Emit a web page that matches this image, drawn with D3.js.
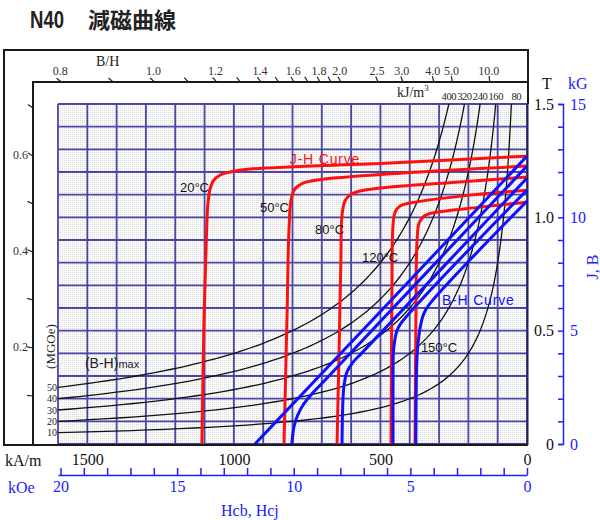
<!DOCTYPE html>
<html lang="ja">
<head>
<meta charset="UTF-8">
<script src="https://d3js.org/d3.v7.min.js"></script>
<style>
  body { margin: 0; background: #fff; }
  svg { display: block; }
  .serif { font-family: "Liberation Serif", "Times New Roman", serif; }
  .sans { font-family: "Liberation Sans", Arial, sans-serif; }
</style>
</head>
<body>
<svg id="chart" width="600" height="520"></svg>
<script>
// J-H curves: [H kA/m, J T]
const jh20 = [[0,1.270],[467,1.240],[945,1.213],[1013,1.200],[1047,1.187],[1071,1.160],[1082,1.120],[1089,1.054],[1095,0.856],[1102,0.547],[1109,0]];
const jh50 = [[0,1.226],[433,1.195],[716,1.165],[764,1.151],[792,1.125],[805,1.076],[812,0.944],[819,0.547],[829,0]];
const jh80 = [[0,1.178],[229,1.156],[502,1.129],[570,1.116],[604,1.098],[621,1.072],[631,1.010],[635,0.812],[641,0.415],[648,0]];
const jh120 = [[0,1.120],[194,1.098],[399,1.063],[433,1.050],[450,1.023],[457,0.966],[461,0.635],[464,0]];
const jh150 = [[0,1.067],[160,1.045],[324,1.019],[351,1.006],[368,0.975],[375,0.900],[379,0.547],[382,0]];

// B-H curves: [H kA/m, B T]
const bh20 = [[0,1.270],[491,0.597],[928,0]];
const bh50 = [[0,1.226],[600,0.404],[700,0.267],[740,0.212],[765,0.170],[783,0.125],[795,0.075],[800,0.030],[802,0]];
const bh80 = [[0,1.173],[563,0.402],[594,0.360],[614,0.318],[624,0.260],[628,0.194],[631,0]];
const bh120 = [[0,1.120],[433,0.527],[446,0.490],[452,0.450],[456,0.400],[457,0.300],[457,0]];
const bh150 = [[0,1.072],[335,0.613],[352,0.575],[362,0.530],[369,0.475],[374,0.410],[377,0.320],[379,0]];

const temps = ["20°C", "50°C", "80°C", "120°C", "150°C"];

// (B-H)max iso-energy guides
const energyKJ = [80, 160, 240, 320, 400];
const energyMGOe = [10, 20, 30, 40, 50];

// B/H (permeance) scale on the frame
const bhRatioTicks = [0.1,0.2,0.3,0.4,0.5,0.6,0.7,0.8,0.9,1.0,1.1,1.2,1.3,1.4,1.5,1.6,1.7,1.8,1.9,2.0,2.5,3.0,4.0,5.0,10.0];
const bhRatioLabels = [0.2,0.4,0.6,0.8,1.0,1.2,1.4,1.6,1.8,2.0,2.5,3.0,4.0,5.0,10.0];

// axis labels
const kAmLabels = [0, 500, 1000, 1500];
const kOeLabels = [0, 5, 10, 15, 20];
const teslaLabels = [0, 0.5, 1.0, 1.5];
const kGLabels = [0, 5, 10, 15];

const svg = d3.select("#chart");
const plot = { left: 58, right: 527, top: 104, bottom: 444 };
const frame = { outerLeft: 4, outerTop: 50, innerLeft: 33, innerTop: 82 };
const mu0 = 4 * Math.PI * 1e-4; // T per kA/m

const x = d3.scaleLinear().domain([0, 1600]).range([plot.right, plot.left]);
const y = d3.scaleLinear().domain([0, 1.5]).range([plot.bottom, plot.top]);
const xOe = d3.scaleLinear().domain([0, 1600 / 79.5775]).range([plot.right, plot.left]);
const yG = d3.scaleLinear().domain([0, 15]).range([plot.bottom, plot.top]);

// title
svg.append("text").attr("x", 30).attr("y", 28)
    .attr("font-family", "Liberation Sans, Arial, sans-serif").attr("font-weight", "bold")
    .attr("font-size", 23).attr("fill", "#222")
    .attr("textLength", 34).attr("lengthAdjust", "spacingAndGlyphs")
    .text("N40");
svg.append("text").attr("x", 88).attr("y", 28)
    .attr("font-family", "Noto Sans CJK JP, sans-serif").attr("font-weight", "bold")
    .attr("font-size", 22).attr("fill", "#222")
    .text("減磁曲線");

// background + grid
const defs = svg.append("defs");
const pat = defs.append("pattern").attr("id", "dots")
    .attr("width", 2).attr("height", 2).attr("patternUnits", "userSpaceOnUse");
pat.append("rect").attr("width", 2).attr("height", 2).attr("fill", "#fcfcfc");
pat.append("rect").attr("width", 1).attr("height", 1).attr("fill", "#dadada");

defs.append("clipPath").attr("id", "plotClip").append("rect")
    .attr("x", plot.left).attr("y", plot.top)
    .attr("width", plot.right - plot.left).attr("height", plot.bottom - plot.top);

svg.append("rect").attr("x", plot.left).attr("y", plot.top)
    .attr("width", plot.right - plot.left).attr("height", plot.bottom - plot.top)
    .attr("fill", "url(#dots)");

const grid = svg.append("g").attr("stroke", "#4848a4").attr("stroke-width", 1.8);
grid.selectAll(".gx").data(x.ticks(16)).enter().append("line")
    .attr("x1", d => x(d)).attr("x2", d => x(d))
    .attr("y1", plot.top).attr("y2", plot.bottom);
grid.selectAll(".gy").data(y.ticks(15)).enter().append("line")
    .attr("x1", plot.left).attr("x2", plot.right)
    .attr("y1", d => y(d)).attr("y2", d => y(d));

// frame
const fr = svg.append("g").attr("stroke", "#1a1a1a").attr("stroke-width", 2).attr("fill", "none");
fr.append("path").attr("d", `M${plot.right + 1},${plot.top} V${frame.outerTop} H${frame.outerLeft} V${plot.bottom + 1} H${plot.right + 1}`);
fr.append("path").attr("d", `M${plot.right + 1},${frame.innerTop} H${frame.innerLeft} V${plot.bottom + 1}`);
fr.append("line").attr("x1", plot.right + 0.5).attr("x2", plot.right + 0.5)
    .attr("y1", plot.top).attr("y2", plot.bottom + 1).attr("stroke", "#22225a");

// B/H ticks on frame
const ox = x(0), oy = y(0);
function framePoint(p) {
    const bTop = y.invert(frame.innerTop);
    let h = bTop / (p * mu0);
    if (x(h) >= frame.innerLeft) return { px: x(h), py: frame.innerTop, side: "top" };
    h = x.invert(frame.innerLeft);
    return { px: frame.innerLeft, py: y(p * mu0 * h), side: "left" };
}
const bhg = svg.append("g");
bhRatioTicks.forEach(p => {
    const fp = framePoint(p);
    const dx = fp.px - ox, dy = fp.py - oy, len = Math.hypot(dx, dy);
    bhg.append("line")
        .attr("x1", fp.px).attr("y1", fp.py)
        .attr("x2", fp.px + 6 * dx / len).attr("y2", fp.py + 6 * dy / len)
        .attr("stroke", "#222").attr("stroke-width", 1.2);
    if (bhRatioLabels.includes(p)) {
        const t = bhg.append("text").attr("class", "serif").attr("font-size", 12).attr("fill", "#333")
            .text(p.toFixed(1));
        if (fp.side === "top") t.attr("x", fp.px - 1).attr("y", 75).attr("text-anchor", "middle");
        else t.attr("x", 28).attr("y", fp.py + 3).attr("text-anchor", "end");
    }
});
svg.append("text").attr("class", "serif").attr("x", 96).attr("y", 66)
    .attr("font-size", 14).attr("fill", "#222").text("B/H");

// iso-energy guides (B·H = const)
const lineGen = d3.line().x(d => x(d[0])).y(d => y(d[1])).curve(d3.curveCatmullRom.alpha(0.5));
const guides = svg.append("g").attr("clip-path", "url(#plotClip)");
energyKJ.forEach(e => {
    const hMin = e / 1.55;
    const pts = d3.range(0, 81).map(i => {
        const h = hMin * Math.pow(1600 / hMin, i / 80);
        return [h, e / h];
    });
    guides.append("path").attr("d", d3.line().x(d => x(d[0])).y(d => y(d[1]))(pts))
        .attr("fill", "none").attr("stroke", "#111").attr("stroke-width", 1.3);
});
const elab = svg.append("g").attr("class", "serif").attr("fill", "#222");
energyKJ.forEach(e => {
    elab.append("text").attr("x", x(e / 1.5) + (e === 80 ? 5 : 0)).attr("y", 100)
        .attr("text-anchor", "middle").attr("font-size", 10.5).attr("letter-spacing", -0.4)
        .text(e);
});
const kj = svg.append("text").attr("class", "serif").attr("x", 397).attr("y", 97)
    .attr("font-size", 14).attr("fill", "#222").text("kJ/m");
kj.append("tspan").attr("font-size", 9).attr("dy", -6).text("3");
energyMGOe.forEach((m, i) => {
    svg.append("text").attr("class", "serif").attr("x", 57).attr("y", y(energyKJ[i] / 1600) + 3.5)
        .attr("text-anchor", "end").attr("font-size", 10).attr("fill", "#222").text(m);
});
svg.append("text").attr("class", "serif").attr("transform", `translate(55,${y(0.43)}) rotate(-90)`)
    .attr("text-anchor", "middle").attr("font-size", 13).attr("fill", "#222").text("(MGOe)");
const bhmax = svg.append("text").attr("class", "sans").attr("x", x(1508)).attr("y", y(0.335))
    .attr("font-size", 14).attr("fill", "#222").text("(B-H)");
bhmax.append("tspan").attr("font-size", 11).text("max");

// B-H (blue) over J-H (red)
const bhCurves = [bh20, bh50, bh80, bh120, bh150];
const jhCurves = [jh20, jh50, jh80, jh120, jh150];
const curves = svg.append("g").attr("clip-path", "url(#plotClip)").attr("fill", "none").attr("stroke-width", 3);
curves.selectAll(".jh").data(jhCurves).enter().append("path")
    .attr("d", lineGen).attr("stroke", "#ff1010");
curves.selectAll(".bh").data(bhCurves).enter().append("path")
    .attr("d", lineGen).attr("stroke", "#1010ff");

// curve annotations (data coordinates)
const tempPos = [[1184, 1.112], [911, 1.023], [723, 0.926], [563, 0.803], [362, 0.406]];
temps.forEach((t, i) => {
    svg.append("text").attr("class", "sans").attr("x", x(tempPos[i][0])).attr("y", y(tempPos[i][1]))
        .attr("font-size", 13).attr("fill", "#111").text(t);
});
svg.append("text").attr("class", "sans").attr("x", x(809)).attr("y", y(1.235))
    .attr("font-size", 14).attr("letter-spacing", 0.8).attr("fill", "#ff1010").text("J-H Curve");
svg.append("text").attr("class", "sans").attr("x", x(290)).attr("y", y(0.613))
    .attr("font-size", 14).attr("letter-spacing", 0.8).attr("fill", "#1010ff").text("B-H Curve");

// bottom axes
const axA = svg.append("g").attr("transform", `translate(0,${plot.bottom + 2})`)
    .call(d3.axisBottom(x).tickValues(kAmLabels).tickSize(0).tickPadding(8).tickFormat(d3.format("d")));
axA.select(".domain").remove();
axA.selectAll("text").attr("class", "serif").attr("font-size", 16).attr("fill", "#111");
svg.append("text").attr("class", "serif").attr("x", 5).attr("y", 466)
    .attr("font-size", 16).attr("fill", "#111").text("kA/m");

const axOe = svg.append("g").attr("transform", "translate(0,475)")
    .call(d3.axisBottom(xOe).tickValues(d3.range(0, 21)).tickSizeInner(-7).tickSizeOuter(0).tickPadding(6)
        .tickFormat(d => kOeLabels.includes(d) ? d : ""));
axOe.select(".domain").attr("stroke", "#2020ff").attr("stroke-width", 1.5);
axOe.selectAll("line").attr("stroke", "#2020ff").attr("stroke-width", 1.5);
axOe.selectAll("text").attr("class", "serif").attr("font-size", 16).attr("fill", "#2020ff");
svg.append("text").attr("class", "serif").attr("x", 8).attr("y", 493)
    .attr("font-size", 16).attr("fill", "#2020ff").text("kOe");
svg.append("text").attr("class", "serif").attr("x", 221).attr("y", 516)
    .attr("font-size", 16).attr("fill", "#2020ff").text("Hcb,  Hcj");

// right axes
const axT = svg.append("g").attr("transform", "translate(554,0)")
    .call(d3.axisLeft(y).tickValues(teslaLabels).tickSize(0).tickPadding(0)
        .tickFormat(d => d === 0 ? "0" : d.toFixed(1)));
axT.select(".domain").remove();
axT.selectAll("text").attr("class", "serif").attr("font-size", 16).attr("fill", "#111");
svg.append("text").attr("class", "serif").attr("x", 542).attr("y", 89)
    .attr("font-size", 16).attr("fill", "#111").text("T");

const axG = svg.append("g").attr("transform", "translate(563,0)")
    .call(d3.axisRight(yG).tickValues(d3.range(0, 16)).tickSizeInner(-5).tickSizeOuter(-5).tickPadding(7)
        .tickFormat(d => kGLabels.includes(d) ? d : ""));
axG.select(".domain").attr("stroke", "#2020ff").attr("stroke-width", 1.5);
axG.selectAll("line").attr("stroke", "#2020ff").attr("stroke-width", 1.5);
axG.selectAll("text").attr("class", "serif").attr("font-size", 16).attr("fill", "#2020ff");
svg.append("text").attr("class", "serif").attr("x", 568).attr("y", 89)
    .attr("font-size", 16).attr("fill", "#2020ff").text("kG");
svg.append("text").attr("class", "serif").attr("transform", "translate(598,267) rotate(-90)")
    .attr("text-anchor", "middle").attr("font-size", 16).attr("fill", "#2020ff").text("J,  B");
</script>
</body>
</html>
